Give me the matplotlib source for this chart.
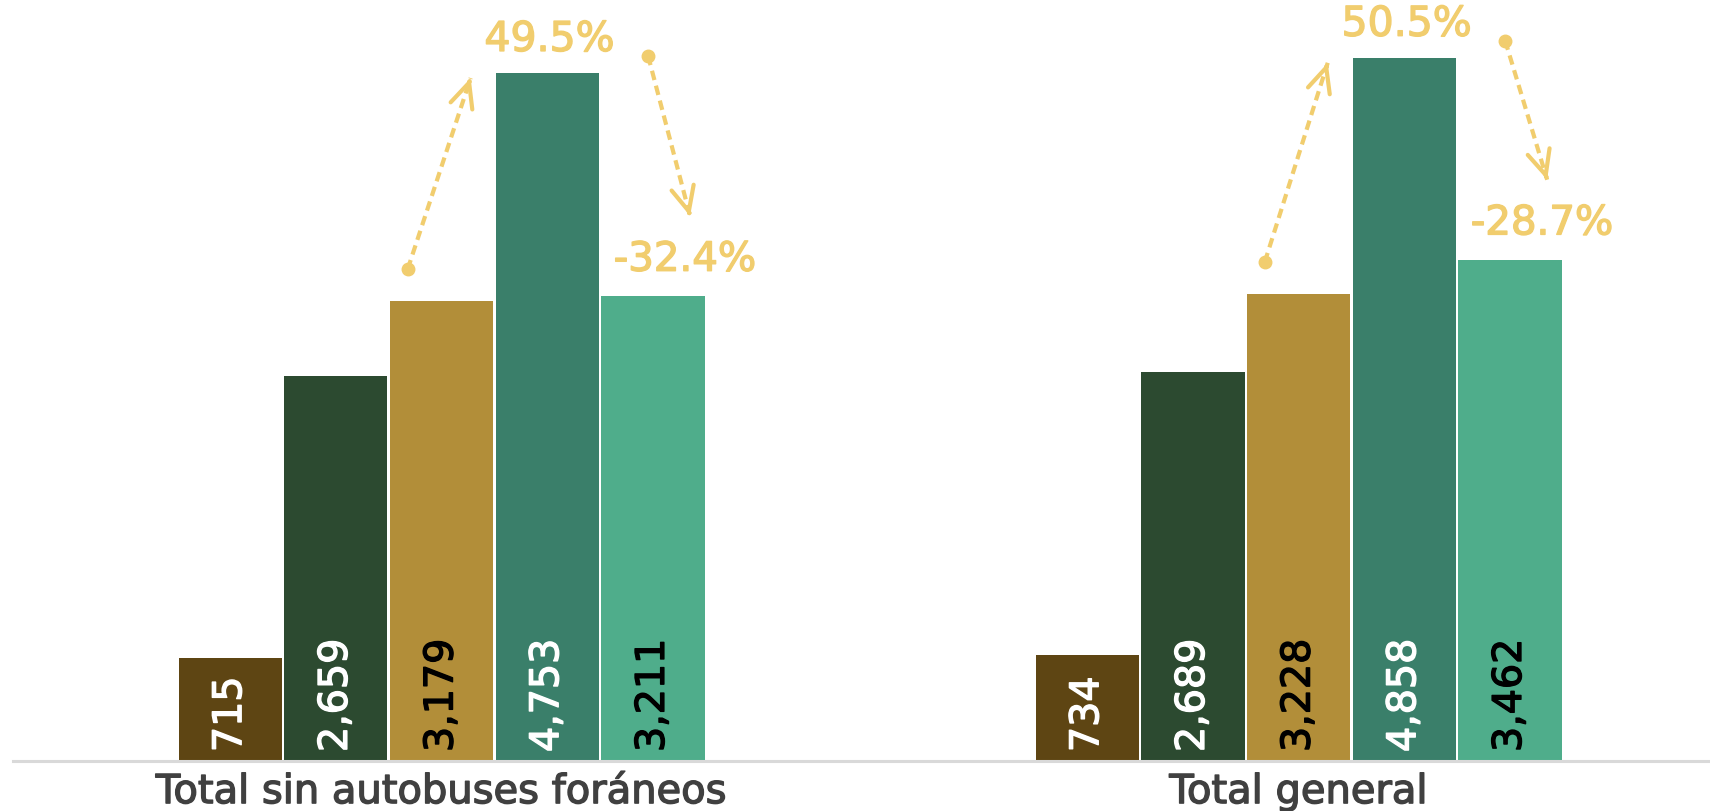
import matplotlib.pyplot as plt
import matplotlib.patheffects as pe
import numpy as np

# datos
categorias = ['Total sin autobuses foráneos', 'Total general']
serie1 = [715, 734]
serie2 = [2659, 2689]
serie3 = [3179, 3228]
serie4 = [4753, 4858]
serie5 = [3211, 3462]
pct_sube = ['49.5%', '50.5%']
pct_baja = ['-32.4%', '-28.7%']

colores = ['#5E4513', '#2C4A30', '#B28E39', '#3A7F6A', '#4FAD8B']
color_txt = ['white', 'white', 'black', 'white', 'black']
amarillo = '#F1CD6E'

series = [serie1, serie2, serie3, serie4, serie5]
paso = 0.1233
ancho = 0.1205

def grueso(c, w=1.0):
    # simula un peso "medium"
    return [pe.withStroke(linewidth=w, foreground=c)]

fig = plt.figure(figsize=(17.1, 8.11), dpi=100)
ax = fig.add_axes([13/1710, 50/811, 1697/1710, 761/811])
x = np.arange(len(categorias))

for i, s in enumerate(series):
    xs = x + (i - 2) * paso
    ax.bar(xs, s, width=ancho, color=colores[i], linewidth=0)
    for xi, v in zip(xs, s):
        ax.text(xi, 62, f'{v:,}', rotation=90, ha='center', va='bottom',
                fontsize=28.5, color=color_txt[i], path_effects=grueso(color_txt[i]))

def flecha(x0, y0, x1, y1):
    ax.plot([x0, x1], [y0, y1], color=amarillo, lw=3, dashes=(2.3, 1.4),
            solid_capstyle='butt')
    ax.plot([x0], [y0], 'o', color=amarillo, markersize=9)
    xt = x1 - 0.02 * (x1 - x0)
    yt = y1 - 0.02 * (y1 - y0)
    ax.annotate('', xy=(x1, y1), xytext=(xt, yt),
                arrowprops=dict(arrowstyle='->, head_length=1.76, head_width=0.82',
                                mutation_scale=10, color=amarillo, lw=3,
                                shrinkA=0, shrinkB=0))

for g in range(len(categorias)):
    flecha(x[g] - 0.0395, serie3[g] + 220, x[g] + 0.034, serie4[g] - 33)
    flecha(x[g] + 0.241, serie4[g] + 120, x[g] + 0.29, serie5[g] + 555)
    ax.text(x[g] + 0.126, serie4[g] + 230, pct_sube[g], ha='center', va='center',
            fontsize=29.5, color=amarillo, path_effects=grueso(amarillo))
    ax.text(x[g] + 0.284, serie5[g] + 253, pct_baja[g], ha='center', va='center',
            fontsize=29, color=amarillo, path_effects=grueso(amarillo))

ax.set_xlim(-0.5, 1.48)
ax.set_ylim(0, 5259)
ax.set_xticks(x)
ax.set_xticklabels(categorias, fontsize=28.8, color='#404040')
for t in ax.get_xticklabels():
    t.set_path_effects(grueso('#404040'))
ax.tick_params(axis='x', length=0, pad=8)
ax.set_yticks([])
for lado in ['top', 'right', 'left']:
    ax.spines[lado].set_visible(False)
ax.spines['bottom'].set_color('#D9D9D9')
ax.spines['bottom'].set_linewidth(2.2)

fig.savefig('out.png', dpi=100)
